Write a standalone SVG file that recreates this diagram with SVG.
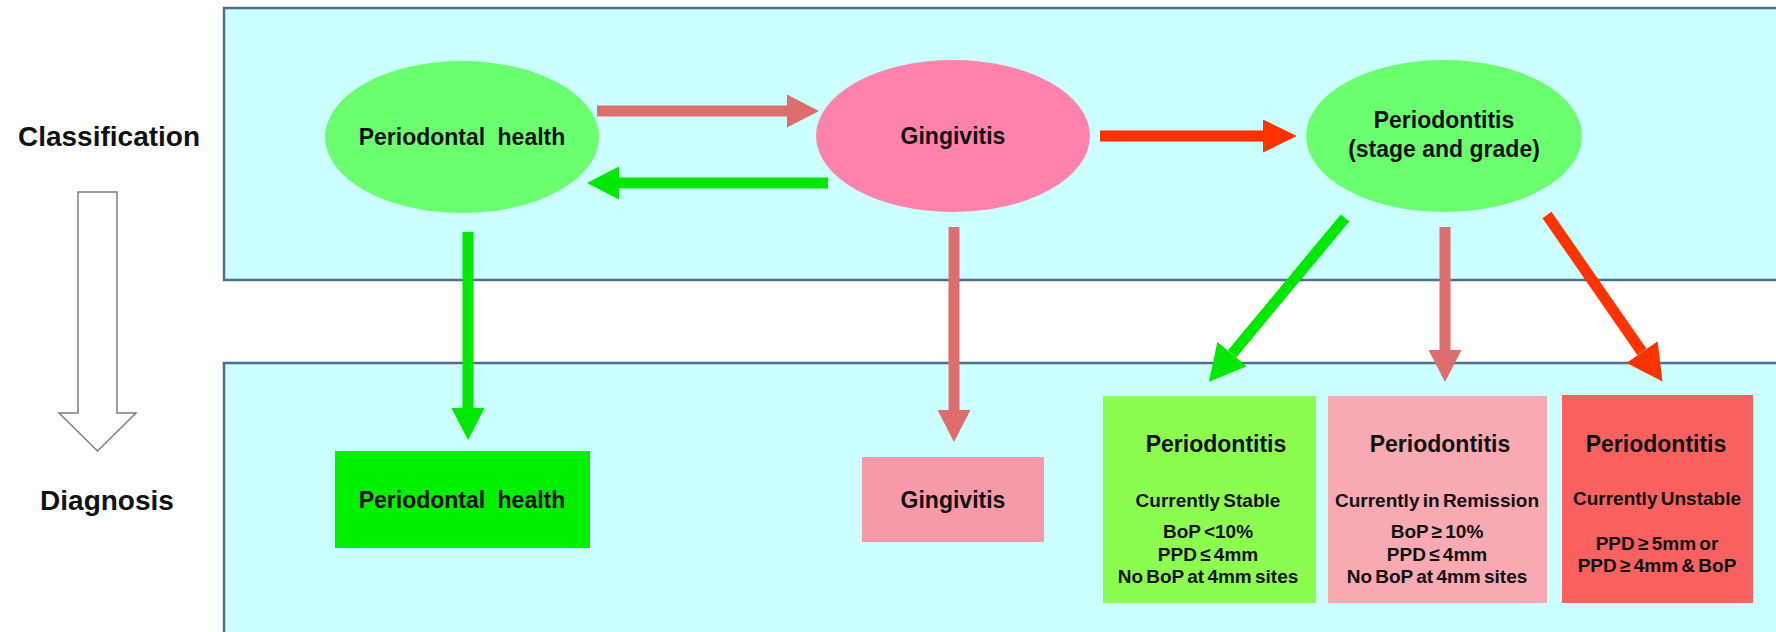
<svg xmlns="http://www.w3.org/2000/svg" width="1776" height="632" viewBox="0 0 1776 632">
<defs>
<style>
.panel{fill:#CCFFFF;stroke:#4E6F93;stroke-width:2.5}
text{font-family:"Liberation Sans",Arial,sans-serif;font-weight:bold;fill:#111;text-anchor:middle}
.lbl{font-size:28px}
.nt{font-size:23px}
.bt{font-size:23px}
.st{font-size:19px;word-spacing:-2px}
.sh{stroke-width:11;fill:none}
.pk{stroke:#DE6E6E}
.gr{stroke:#00E800}
.rd{stroke:#FF3300}
</style>
<marker id="hPk" markerUnits="userSpaceOnUse" markerWidth="33" markerHeight="33" refX="0" refY="16.5" orient="auto" viewBox="0 0 33 33"><path d="M0,0 L32,16.5 L0,33 z" fill="#DE6E6E"/></marker>
<marker id="hGr" markerUnits="userSpaceOnUse" markerWidth="33" markerHeight="33" refX="0" refY="16.5" orient="auto" viewBox="0 0 33 33"><path d="M0,0 L32,16.5 L0,33 z" fill="#00E800"/></marker>
<marker id="hRd" markerUnits="userSpaceOnUse" markerWidth="33" markerHeight="33" refX="0" refY="16.5" orient="auto" viewBox="0 0 33 33"><path d="M0,0 L34,16.5 L0,33 z" fill="#FF3300"/></marker>
<marker id="hGrL" markerUnits="userSpaceOnUse" markerWidth="38" markerHeight="38" refX="0" refY="19" orient="auto" viewBox="0 0 38 38"><path d="M0,0 L36,19 L0,38 z" fill="#00E800"/></marker>
<marker id="hRdL" markerUnits="userSpaceOnUse" markerWidth="38" markerHeight="38" refX="0" refY="19" orient="auto" viewBox="0 0 38 38"><path d="M0,0 L36,19 L0,38 z" fill="#FF3300"/></marker>
</defs>
<rect width="1776" height="632" fill="#FFFFFF"/>
<g id="panels">
<rect class="panel" x="224" y="8" width="1600" height="272"/>
<rect class="panel" x="224" y="363" width="1600" height="300"/>
</g>
<g id="side-labels">
<text class="lbl" x="109" y="146">Classification</text>
<text class="lbl" x="107" y="510">Diagnosis</text>
<path d="M78,192 H117 V413 H136 L97.5,451 L59,413 H78 Z" fill="#FFFFFF" stroke="#808080" stroke-width="1.5"/>
</g>
<g id="node-health-class">
<ellipse cx="462" cy="137" rx="137" ry="76" fill="#6BFF70"/>
<text class="nt" x="462" y="145" word-spacing="6">Periodontal health</text>
</g>
<g id="node-gingivitis-class">
<ellipse cx="953" cy="136" rx="137" ry="76" fill="#FF82AA"/>
<text class="nt" x="953" y="144">Gingivitis</text>
</g>
<g id="node-periodontitis-class">
<ellipse cx="1444" cy="136" rx="138" ry="76" fill="#6BFF70"/>
<text class="nt" x="1444" y="128">Periodontitis</text>
<text class="nt" x="1444" y="157">(stage and grade)</text>
</g>
<g id="node-health-dx">
<rect x="335" y="451" width="255" height="97" fill="#00F000"/>
<text class="nt" x="462" y="508" word-spacing="6">Periodontal health</text>
</g>
<g id="node-gingivitis-dx">
<rect x="862" y="457" width="182" height="85" fill="#F799A8"/>
<text class="nt" x="953" y="508">Gingivitis</text>
</g>
<g id="node-stable">
<rect x="1103" y="396" width="213" height="207" fill="#8CFC4F"/>
<text class="bt" x="1216" y="452">Periodontitis</text>
<text class="st" x="1208" y="507">Currently Stable</text>
<text class="st" x="1208" y="538">BoP &lt;10%</text>
<text class="st" x="1208" y="561">PPD ≤ 4mm</text>
<text class="st" x="1208" y="583">No BoP at 4mm sites</text>
</g>
<g id="node-remission">
<rect x="1328" y="396" width="219" height="207" fill="#F8A9B1"/>
<text class="bt" x="1440" y="452">Periodontitis</text>
<text class="st" x="1437" y="507">Currently in Remission</text>
<text class="st" x="1437" y="538">BoP ≥ 10%</text>
<text class="st" x="1437" y="561">PPD ≤ 4mm</text>
<text class="st" x="1437" y="583">No BoP at 4mm sites</text>
</g>
<g id="node-unstable">
<rect x="1562" y="395" width="191" height="208" fill="#F96060"/>
<text class="bt" x="1656" y="452">Periodontitis</text>
<text class="st" x="1657" y="505">Currently Unstable</text>
<text class="st" x="1657" y="550">PPD ≥ 5mm or</text>
<text class="st" x="1657" y="572">PPD ≥ 4mm &amp; BoP</text>
</g>
<g id="connectors">
<line class="sh pk" x1="597" y1="111" x2="787" y2="111" marker-end="url(#hPk)"/>
<line class="sh gr" x1="828" y1="183" x2="619" y2="183" marker-end="url(#hGr)"/>
<line class="sh rd" x1="1100" y1="136" x2="1263" y2="136" marker-end="url(#hRd)"/>
<line class="sh gr" x1="468" y1="232" x2="468" y2="408" marker-end="url(#hGr)"/>
<line class="sh pk" x1="954" y1="227" x2="954" y2="410" marker-end="url(#hPk)"/>
<line class="sh pk" x1="1445" y1="227" x2="1445" y2="350" marker-end="url(#hPk)"/>
<line class="sh gr" x1="1345" y1="218" x2="1232" y2="354" marker-end="url(#hGrL)"/>
<line class="sh rd" x1="1547" y1="215" x2="1642" y2="352" marker-end="url(#hRdL)"/>
</g>
</svg>
